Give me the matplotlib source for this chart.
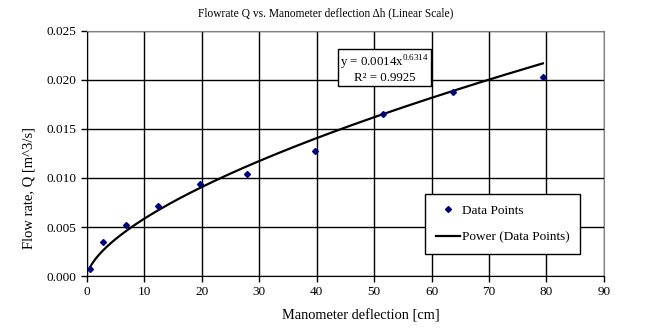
import numpy as np
import matplotlib
matplotlib.use("Agg")
import matplotlib.pyplot as plt

deflection_cm = [0.5, 2.8, 6.8, 12.4, 19.7, 27.9, 39.7, 51.6, 63.8, 79.4]
flow_rate = [0.0007, 0.0035, 0.0052, 0.0071, 0.0094, 0.0104, 0.0128, 0.0165, 0.0188, 0.0203]

# power trendline: label shows rounded coefficient, curve uses unrounded one
fit_a_label = 0.0014
fit_a = 0.00137
fit_b = 0.6314
fit_r2 = 0.9925

plt.rcParams["font.family"] = ["Liberation Serif", "DejaVu Serif"]
plt.rcParams["mathtext.fontset"] = "custom"
plt.rcParams["mathtext.rm"] = "Liberation Serif"

fig = plt.figure(figsize=(6.45, 3.29), dpi=100)
ax = fig.add_axes([0.135, 0.161, 0.801, 0.745])

xfit = np.linspace(min(deflection_cm), max(deflection_cm), 300)
yfit = fit_a * xfit ** fit_b

ax.plot(deflection_cm, flow_rate, linestyle="none", marker="D", markersize=3,
        color="#000080", label="Data Points", zorder=4)
ax.plot(xfit, yfit, color="black", linewidth=1.6, label="Power (Data Points)", zorder=3)

ax.set_xlim(0, 90)
ax.set_ylim(0, 0.025)
ax.set_xticks(np.arange(0, 91, 10))
ax.set_yticks(np.arange(0, 0.0251, 0.005))
ax.set_yticklabels([f"{v:.3f}" for v in np.arange(0, 0.0251, 0.005)])
ax.grid(True, color="black", linewidth=1.0)
ax.set_axisbelow(True)
ax.tick_params(direction="out", length=4, width=1, labelsize=9.5, colors="black")

for side in ("left", "bottom"):
    ax.spines[side].set_color("black")
for side in ("right", "top"):
    ax.spines[side].set_color("#808080")

fig.text(0.505, 0.96, "Flowrate Q vs. Manometer deflection \u0394h (Linear Scale)",
         ha="center", va="center", fontsize=8.3)
ax.set_xlabel("Manometer deflection [cm]", fontsize=10.4, labelpad=6)
ax.xaxis.set_label_coords(0.53, -0.135)
ax.set_ylabel("Flow rate, Q [m^3/s]", fontsize=10.5, labelpad=8)
ax.yaxis.set_label_coords(-0.10, 0.36)

ax.text(0.576, 0.847, f"y = {fit_a_label}x$^{{\\mathrm{{{fit_b}}}}}$\nR\u00b2 = {fit_r2}",
        transform=ax.transAxes, ha="center", va="center", fontsize=9.3, linespacing=1.0,
        bbox=dict(boxstyle="square,pad=0.15", facecolor="white", edgecolor="black", linewidth=1))

leg = ax.legend(loc="lower right", bbox_to_anchor=(0.955, 0.09), fontsize=9.5,
                frameon=True, fancybox=False, edgecolor="black", framealpha=1,
                handlelength=1.8, borderpad=0.8, labelspacing=1.1, handletextpad=0.2,
                borderaxespad=0)
leg.get_frame().set_linewidth(1)

fig.savefig("out.png", dpi=100)
